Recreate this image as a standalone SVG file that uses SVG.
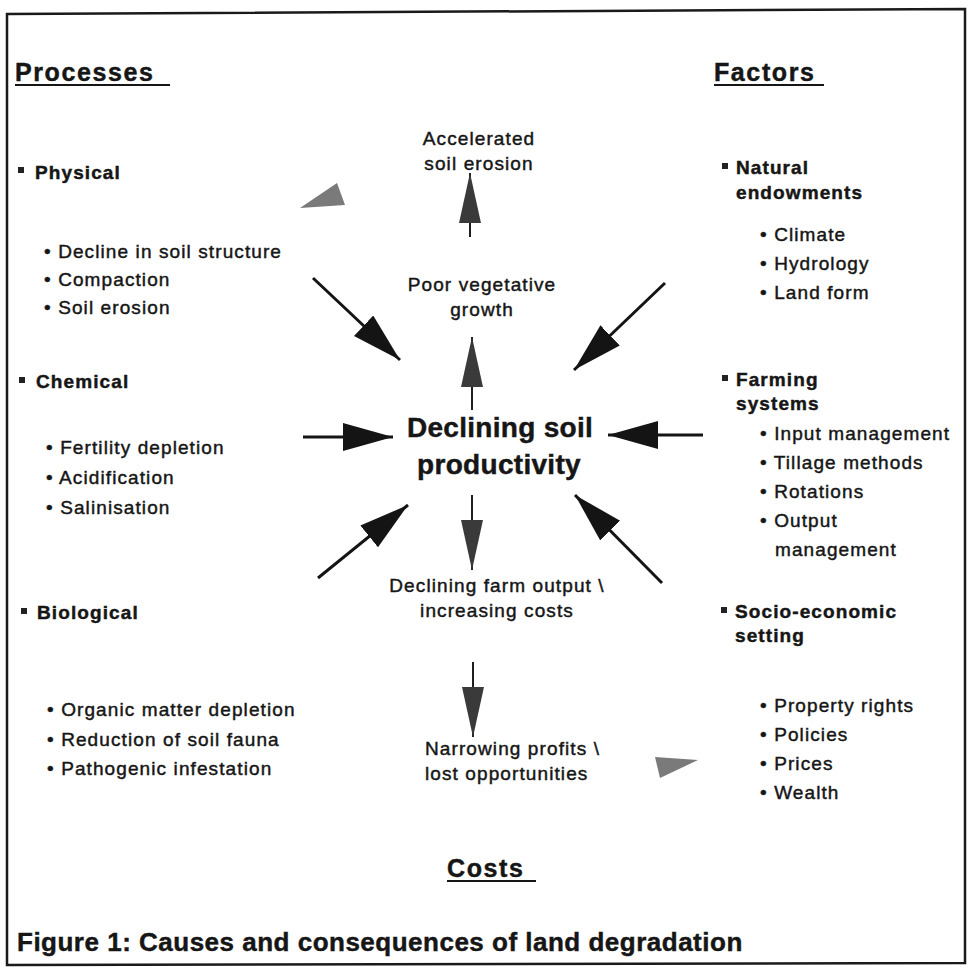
<svg xmlns="http://www.w3.org/2000/svg" width="968" height="979" viewBox="0 0 968 979">
<style>
  .t{font-family:"Liberation Sans",Arial,Helvetica,sans-serif;font-size:19px;letter-spacing:1.1px;fill:#161616;stroke:#161616;stroke-width:0.45px}
  .h{font-weight:bold}
  .big{font-size:25px;font-weight:bold;letter-spacing:1.6px}
  .mid{text-anchor:middle}
  .ctr{font-size:28px;font-weight:bold;letter-spacing:0.3px}
  .cap{font-size:26px;font-weight:bold;letter-spacing:0.5px}
  .ul{stroke:#161616;stroke-width:2}
  .sq{fill:#222}
  .frame{fill:none;stroke:#1a1a1a;stroke-width:2.5}
  .solid{stroke:#141414;stroke-width:3;fill:none}
  .thin{stroke:#1e1e1e;stroke-width:2;fill:none}
  .decor{fill:#7a7a7a}
</style>
<defs>
  <marker id="headSolid" markerUnits="userSpaceOnUse" markerWidth="52" markerHeight="30" refX="50" refY="14" orient="auto">
    <path d="M0,0 L50,14 L0,28 Z" fill="#141414"/>
  </marker>
  <marker id="headLight" markerUnits="userSpaceOnUse" markerWidth="52" markerHeight="26" refX="50" refY="12" orient="auto">
    <path d="M0,1 L50,12 L0,23 Z" fill="#3a3a3a"/>
  </marker>
</defs>
<rect width="968" height="979" fill="#ffffff"/>
<path class="frame" d="M7,14 L965,9 L965,963 L7,965 Z"/>

<g id="processes-header">
  <text class="t big" x="15" y="81">Processes</text>
  <line class="ul" x1="15" y1="85" x2="170" y2="85"/>
</g>
<g id="factors-header">
  <text class="t big" x="714" y="81">Factors</text>
  <line class="ul" x1="714" y1="85" x2="824" y2="85"/>
</g>

<g id="physical">
  <rect class="sq" x="18" y="167" width="6" height="6"/>
  <text class="t h" x="35" y="179">Physical</text>
  <text class="t" x="44" y="258">• Decline in soil structure</text>
  <text class="t" x="44" y="286">• Compaction</text>
  <text class="t" x="44" y="314">• Soil erosion</text>
</g>
<g id="chemical">
  <rect class="sq" x="19" y="377" width="6" height="6"/>
  <text class="t h" x="36" y="388">Chemical</text>
  <text class="t" x="46" y="454">• Fertility depletion</text>
  <text class="t" x="46" y="484">• Acidification</text>
  <text class="t" x="46" y="514">• Salinisation</text>
</g>
<g id="biological">
  <rect class="sq" x="21" y="608" width="6" height="6"/>
  <text class="t h" x="37" y="619">Biological</text>
  <text class="t" x="47" y="716">• Organic matter depletion</text>
  <text class="t" x="47" y="746">• Reduction of soil fauna</text>
  <text class="t" x="47" y="775">• Pathogenic infestation</text>
</g>

<g id="natural-endowments">
  <rect class="sq" x="722" y="163" width="6" height="6"/>
  <text class="t h" x="736" y="174">Natural</text>
  <text class="t h" x="736" y="199">endowments</text>
  <text class="t" x="760" y="241">• Climate</text>
  <text class="t" x="760" y="270">• Hydrology</text>
  <text class="t" x="760" y="299">• Land form</text>
</g>
<g id="farming-systems">
  <rect class="sq" x="722" y="375" width="6" height="6"/>
  <text class="t h" x="736" y="386">Farming</text>
  <text class="t h" x="736" y="410">systems</text>
  <text class="t" x="760" y="440">• Input management</text>
  <text class="t" x="760" y="469">• Tillage methods</text>
  <text class="t" x="760" y="498">• Rotations</text>
  <text class="t" x="760" y="527">• Output</text>
  <text class="t" x="775" y="556">management</text>
</g>
<g id="socio-economic">
  <rect class="sq" x="721" y="607" width="6" height="6"/>
  <text class="t h" x="735" y="618">Socio-economic</text>
  <text class="t h" x="735" y="642">setting</text>
  <text class="t" x="760" y="712">• Property rights</text>
  <text class="t" x="760" y="741">• Policies</text>
  <text class="t" x="760" y="770">• Prices</text>
  <text class="t" x="760" y="799">• Wealth</text>
</g>

<g id="accelerated-erosion">
  <text class="t mid" x="479" y="145">Accelerated</text>
  <text class="t mid" x="479" y="170">soil erosion</text>
</g>
<g id="poor-growth">
  <text class="t mid" x="482" y="291">Poor vegetative</text>
  <text class="t mid" x="482" y="316">growth</text>
</g>
<g id="declining-productivity">
  <text class="t ctr mid" x="500" y="437">Declining soil</text>
  <text class="t ctr mid" x="499" y="474">productivity</text>
</g>
<g id="declining-output">
  <text class="t mid" x="497" y="592">Declining farm output \</text>
  <text class="t mid" x="497" y="617">increasing costs</text>
</g>
<g id="narrowing-profits">
  <text class="t" x="425" y="755">Narrowing profits \</text>
  <text class="t" x="425" y="780">lost opportunities</text>
</g>
<g id="costs-header">
  <text class="t big" x="447" y="877">Costs</text>
  <line class="ul" x1="447" y1="881" x2="536" y2="881"/>
</g>

<g id="caption">
  <text class="t cap" x="17" y="951">Figure 1: Causes and consequences of land degradation</text>
</g>

<g id="decor">
  <polygon class="decor" points="300,208 337,183 345,205"/>
  <polygon class="decor" points="655,757 698,760 660,778"/>
</g>

<g id="connectors">
  <line class="thin" x1="470" y1="237" x2="470" y2="173" marker-end="url(#headLight)"/>
  <line class="thin" x1="472" y1="410" x2="472" y2="337" marker-end="url(#headLight)"/>
  <line class="thin" x1="472" y1="495" x2="472" y2="570" marker-end="url(#headLight)"/>
  <line class="thin" x1="473" y1="662" x2="473" y2="737" marker-end="url(#headLight)"/>
  <line class="solid" x1="313" y1="278" x2="400" y2="360" marker-end="url(#headSolid)"/>
  <line class="solid" x1="303" y1="437" x2="393" y2="437" marker-end="url(#headSolid)"/>
  <line class="solid" x1="318" y1="578" x2="408" y2="505" marker-end="url(#headSolid)"/>
  <line class="solid" x1="665" y1="283" x2="574" y2="370" marker-end="url(#headSolid)"/>
  <line class="solid" x1="703" y1="435" x2="608" y2="435" marker-end="url(#headSolid)"/>
  <line class="solid" x1="662" y1="583" x2="575" y2="495" marker-end="url(#headSolid)"/>
</g>
</svg>
